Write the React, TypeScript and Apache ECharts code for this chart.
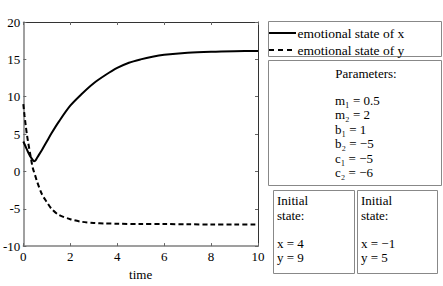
import React, { useEffect, useRef } from "react";
import * as echarts from "echarts";

const timeX = [0, 0.1, 0.2, 0.3, 0.4, 0.45, 0.5, 0.6, 0.8, 1.0, 1.2, 1.5, 2.0, 2.5, 3.0, 3.5, 4.0, 4.5, 5.0, 5.5, 6.0, 7.0, 8.0, 9.0, 10];
const xState = [4.0, 3.3, 2.6, 2.0, 1.55, 1.35, 1.4, 1.9, 2.9, 4.0, 5.1, 6.6, 8.8, 10.4, 11.8, 12.9, 13.85, 14.55, 15.0, 15.35, 15.6, 15.88, 16.02, 16.09, 16.12];
const timeY = [0, 0.05, 0.1, 0.15, 0.2, 0.3, 0.4, 0.5, 0.6, 0.8, 1.0, 1.2, 1.5, 2.0, 2.5, 3.0, 3.5, 4.0, 5.0, 6.0, 7.0, 8.0, 9.0, 10];
const yState = [9.0, 7.5, 6.2, 5.0, 4.0, 2.2, 0.5, -0.5, -1.5, -3.1, -4.1, -5.0, -5.8, -6.4, -6.75, -6.9, -6.97, -7.0, -7.05, -7.05, -7.08, -7.1, -7.1, -7.1];
const xTicks = { min: 0, max: 10, interval: 2 };
const yTicks = { min: -10, max: 20, interval: 5 };
const legendLabels = ["emotional state of x", "emotional state of y"];
const paramTitle = "Parameters:";
const paramLines = ["m₁ = 0.5", "m₂ = 2", "b₁ = 1", "b₂ = −5", "c₁ = −5", "c₂ = −6"];
const initialX = ["Initial", "state:", "", "x = 4", "y = 9"];
const initialY = ["Initial", "state:", "", "x = −1", "y = 5"];

const FONT = "'Times New Roman', 'Liberation Serif', Times, serif";

export default function App() {
  const ref = useRef<HTMLDivElement>(null);
  useEffect(() => {
    if (!ref.current) return;
    const chart = echarts.init(ref.current, null, { renderer: "svg" });
    const txt = (text: string, x: number, y: number, align = "left", size = 13) => ({
      type: "text",
      x,
      y,
      style: { text, fontFamily: FONT, fontSize: size, fill: "#000", textAlign: align, textVerticalAlign: "middle" },
    });
    const box = (x: number, y: number, w: number, h: number) => ({
      type: "rect",
      shape: { x, y, width: w, height: h },
      style: { fill: "#fff", stroke: "#888", lineWidth: 1 },
    });
    const lineSpacing = 14.5;
    const initLines = [200, 215, 229, 243, 257.5];
    const graphics: any[] = [
      box(268.5, 21.5, 173, 35),
      { type: "line", shape: { x1: 269, y1: 33, x2: 296, y2: 33 }, style: { stroke: "#000", lineWidth: 2 } },
      { type: "line", shape: { x1: 269, y1: 50, x2: 296, y2: 50 }, style: { stroke: "#000", lineWidth: 2, lineDash: [5, 4] } },
      txt(legendLabels[0], 297.5, 33, "left", 13.5),
      txt(legendLabels[1], 297.5, 50, "left", 13.5),
      box(268.5, 60.5, 173, 125),
      txt(paramTitle, 366, 73, "center"),
      ...paramLines.map((s, i) => txt(s, 335, 100 + i * lineSpacing)),
      box(273.5, 190.5, 81, 83),
      box(357.5, 190.5, 80, 83),
      ...initialX.map((s, i) => txt(s, 277, initLines[i])),
      ...initialY.map((s, i) => txt(s, 361, initLines[i])),
    ];
    const axisLabel = { color: "#000", fontFamily: FONT, fontSize: 13 };
    chart.setOption({
      animation: false,
      grid: { left: 20, top: 22, width: 238, height: 227, containLabel: false },
      xAxis: [
        {
          type: "value",
          ...xTicks,
          position: "bottom",
          name: "time",
          nameLocation: "middle",
          nameGap: 17,
          nameTextStyle: { color: "#000", fontFamily: FONT, fontSize: 13 },
          axisLine: { show: true, onZero: false, lineStyle: { color: "#808080", width: 1.5 } },
          axisTick: { show: true, inside: true, length: 3, lineStyle: { color: "#666" } },
          axisLabel: { ...axisLabel, margin: 4 },
          splitLine: { show: false },
        },
        {
          type: "value",
          ...xTicks,
          position: "top",
          axisLine: { show: true, onZero: false, lineStyle: { color: "#333", width: 1 } },
          axisTick: { show: true, inside: true, length: 3, lineStyle: { color: "#666" } },
          axisLabel: { show: false },
          splitLine: { show: false },
        },
      ],
      yAxis: [
        {
          type: "value",
          ...yTicks,
          position: "left",
          axisLine: { show: true, onZero: false, lineStyle: { color: "#808080", width: 1.5 } },
          axisTick: { show: true, inside: true, length: 3, lineStyle: { color: "#666" } },
          axisLabel: { ...axisLabel, margin: 3 },
          splitLine: { show: false },
        },
        {
          type: "value",
          ...yTicks,
          position: "right",
          axisLine: { show: true, onZero: false, lineStyle: { color: "#333", width: 1 } },
          axisTick: { show: true, inside: true, length: 3, lineStyle: { color: "#666" } },
          axisLabel: { show: false },
          splitLine: { show: false },
        },
      ],
      series: [
        {
          name: legendLabels[0],
          type: "line",
          data: timeX.map((t, i) => [t, xState[i]]),
          showSymbol: false,
          smooth: 0.3,
          lineStyle: { color: "#000", width: 2, type: "solid" },
          xAxisIndex: 0,
          yAxisIndex: 0,
        },
        {
          name: legendLabels[1],
          type: "line",
          data: timeY.map((t, i) => [t, yState[i]]),
          showSymbol: false,
          smooth: 0.3,
          lineStyle: { color: "#000", width: 2, type: [5, 3] },
          xAxisIndex: 0,
          yAxisIndex: 0,
        },
      ],
      graphic: graphics,
    });
    return () => chart.dispose();
  }, []);
  return <div ref={ref} style={{ position: "absolute", left: 0, top: 0, width: 443, height: 286 }} />;
}
